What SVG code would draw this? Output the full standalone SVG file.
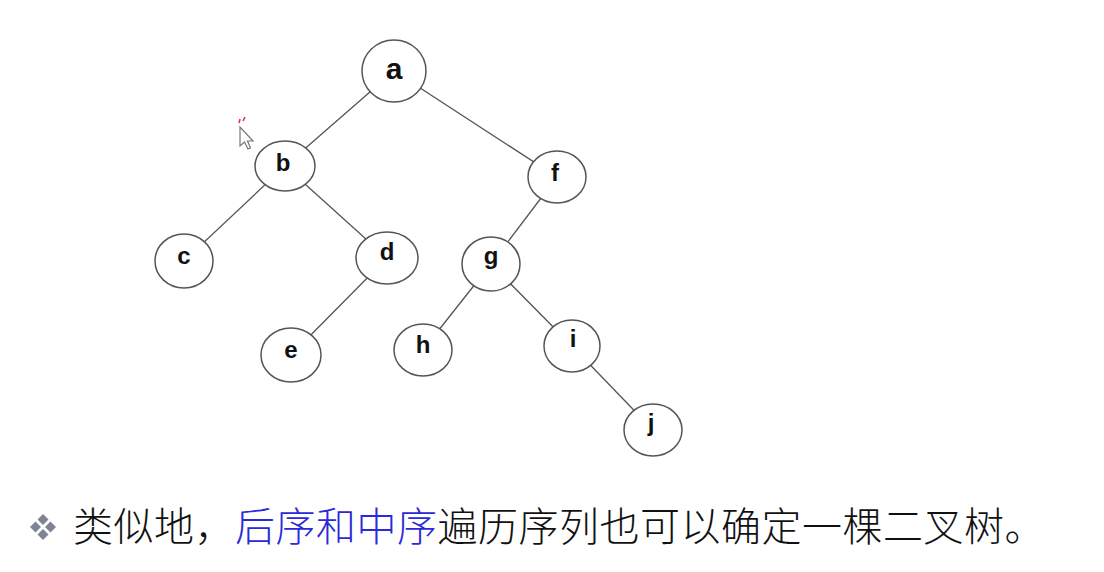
<svg xmlns="http://www.w3.org/2000/svg" width="1104" height="572" viewBox="0 0 1104 572">
<style>
.edge{stroke:#555;stroke-width:1.3;fill:none}
.node ellipse{fill:#fff;stroke:#555;stroke-width:1.5}
.node text{font-family:"Liberation Sans",Arial,sans-serif;font-weight:bold;font-size:24px;fill:#111;text-anchor:middle}
.cap{font-family:"Noto Sans CJK SC","Noto Sans",sans-serif;font-size:40px;font-weight:300;letter-spacing:0.5px;fill:#111}
</style>
<rect width="1104" height="572" fill="#fff"/>
<g id="connectors">
<line class="edge" x1="394" y1="71" x2="285" y2="166"/>
<line class="edge" x1="394" y1="71" x2="557" y2="177"/>
<line class="edge" x1="285" y1="166" x2="184" y2="261"/>
<line class="edge" x1="285" y1="166" x2="387" y2="258"/>
<line class="edge" x1="387" y1="258" x2="291" y2="355"/>
<line class="edge" x1="557" y1="177" x2="491" y2="264"/>
<line class="edge" x1="491" y1="264" x2="423" y2="350"/>
<line class="edge" x1="491" y1="264" x2="572" y2="346"/>
<line class="edge" x1="572" y1="346" x2="653" y2="430"/>
</g>
<g id="node-a" class="node"><ellipse cx="394" cy="71" rx="32" ry="31"/><text x="394" y="79" style="font-size:30px">a</text></g>
<g id="node-b" class="node"><ellipse cx="285" cy="166" rx="30" ry="25"/><text x="283" y="171">b</text></g>
<g id="node-f" class="node"><ellipse cx="557" cy="177" rx="29" ry="26"/><text x="555" y="181">f</text></g>
<g id="node-c" class="node"><ellipse cx="184" cy="261" rx="29" ry="27"/><text x="184" y="264">c</text></g>
<g id="node-d" class="node"><ellipse cx="387" cy="258" rx="31" ry="26"/><text x="387" y="260">d</text></g>
<g id="node-g" class="node"><ellipse cx="491" cy="264" rx="29" ry="27"/><text x="491" y="264">g</text></g>
<g id="node-e" class="node"><ellipse cx="291" cy="355" rx="30" ry="27"/><text x="291" y="358">e</text></g>
<g id="node-h" class="node"><ellipse cx="423" cy="350" rx="29" ry="26"/><text x="423" y="353">h</text></g>
<g id="node-i" class="node"><ellipse cx="572" cy="346" rx="28" ry="26"/><text x="573" y="347">i</text></g>
<g id="node-j" class="node"><ellipse cx="653" cy="430" rx="29" ry="26"/><text x="651" y="431">j</text></g>
<g id="cursor">
<path d="M240 127 L240 146 L244.5 142 L248 149 L250.5 148 L247.5 141 L253 141 Z" fill="#fff" stroke="#777" stroke-width="1.2"/>
<path d="M239 123 L240 119 M243 121 L245 117" stroke="#e0306a" stroke-width="1.6"/>
</g>
<g id="bullet" fill="#7d8594">
<polygon points="43,514 48.5,519.5 43,525 37.5,519.5"/>
<polygon points="43,529 48.5,534.5 43,540 37.5,534.5"/>
<polygon points="35.5,521.5 41,527 35.5,532.5 30,527"/>
<polygon points="50.5,521.5 56,527 50.5,532.5 45,527"/>
</g>
<text class="cap" x="73" y="541">类似地，<tspan fill="#2a2ad8">后序和中序</tspan>遍历序列也可以确定一棵二叉树。</text>
</svg>
